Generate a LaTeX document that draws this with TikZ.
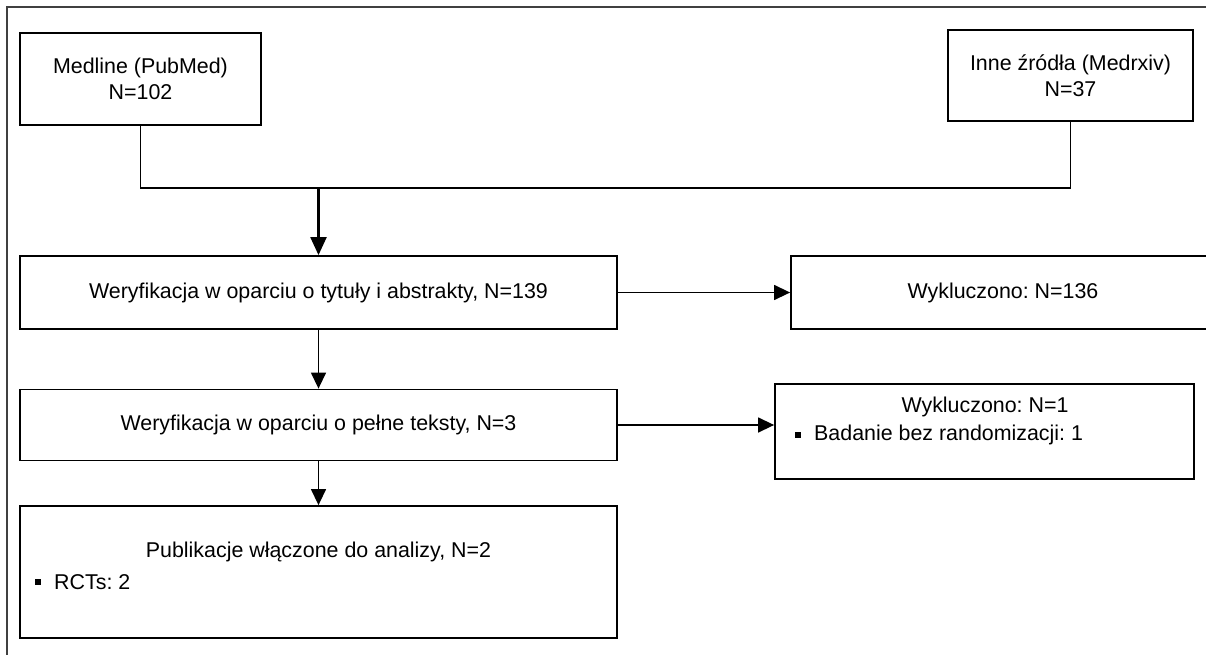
\documentclass[tikz,border=0pt]{standalone}
\usepackage{fontspec}
\setmainfont{Liberation Sans}
\usetikzlibrary{arrows.meta}
\frenchspacing
\tikzset{
  flowbox/.style={draw=black, line width=1.8pt, rectangle, inner sep=0pt,
    font=\fontsize{21.4}{26}\selectfont, align=center},
  label/.style={inner sep=0pt, font=\fontsize{21.4}{26}\selectfont},
  conn/.style={draw=black, line width=1.4pt},
  arr/.style={draw=black, line width=1.4pt, -{Triangle[length=16pt,width=15pt]}},
  bigarr/.style={draw=black, line width=2.2pt, -{Triangle[length=18pt,width=16pt]}},
  framel/.style={draw=black!75, line width=1.5pt},
  bulletsq/.style={fill=black, inner sep=0pt, minimum size=6pt, rectangle}
}
\begin{document}
\begin{tikzpicture}[x=1pt,y=-1pt]
\useasboundingbox (0,0) rectangle (1206,655);
\clip (0,0) rectangle (1206,655);
\fill[white] (0,0) rectangle (1206,655);
% outer frame (open to right and bottom)
\draw[framel] (7,670) -- (7,7) -- (1220,7);

% boxes
\node[flowbox, minimum width=241pt, minimum height=92pt] (med) at (140.5,79) {Medline (PubMed)\\N=102};
\node[flowbox, minimum width=245pt, minimum height=91pt] (inne) at (1070.5,75.5) {Inne źródła (Medrxiv)\\N=37};
\node[flowbox, minimum width=597pt, minimum height=73pt] (ver1) at (318.5,292.5) {Weryfikacja w oparciu o tytuły i abstrakty, N=139};
\node[flowbox, minimum width=424pt, minimum height=73pt] (exc1) at (1003,292.5) {Wykluczono: N=136};
\node[flowbox, minimum width=597pt, minimum height=71pt] (ver2) at (318.5,425) {Weryfikacja w oparciu o pełne teksty, N=3};
\node[flowbox, minimum width=419pt, minimum height=95pt] (exc2) at (984.5,431.5) {};
\node[flowbox, minimum width=597pt, minimum height=132pt] (incl) at (318.5,572) {};

% texts inside composite boxes
\node[label] (exc2t) at (985,407) {Wykluczono: N=1};
\node[bulletsq] (exc2b) at (798,435) {};
\node[label, anchor=west] (exc2l) at (814,435) {Badanie bez randomizacji: 1};
\node[label] (inclt) at (318.5,552) {Publikacje włączone do analizy, N=2};
\node[bulletsq] (inclb) at (38,582) {};
\node[label, anchor=west] (incll) at (54,582) {RCTs: 2};

% connectors
\coordinate (junc) at (318.5,188);
\draw[conn] (med.south) -- (med.south |- junc) -- (inne.south |- junc) -- (inne.south);
\draw[bigarr] (junc) -- (ver1.north);
\draw[arr] (ver1.east) -- (exc1.west);
\draw[arr] (ver1.south) -- (ver2.north);
\draw[arr] (ver2.east) -- (ver2.east -| exc2.west);
\draw[arr] (ver2.south) -- (incl.north);
\end{tikzpicture}
\end{document}
